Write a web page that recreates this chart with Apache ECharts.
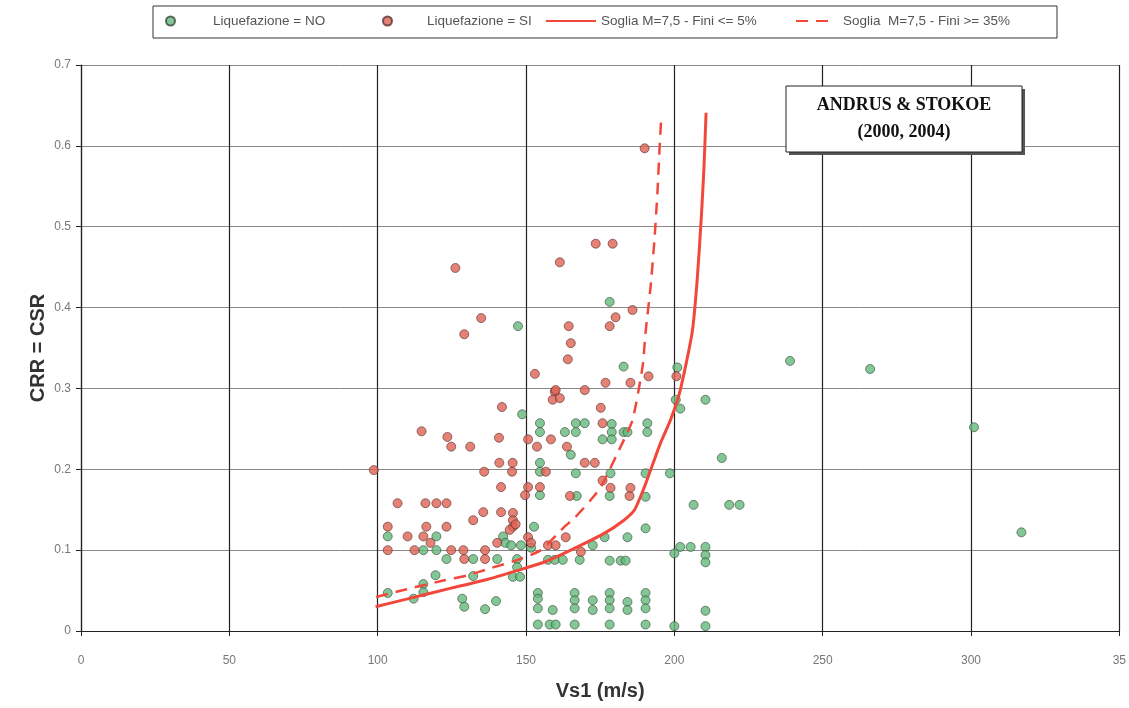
<!DOCTYPE html>
<html>
<head>
<meta charset="utf-8">
<script src="https://cdn.jsdelivr.net/npm/echarts@6/dist/echarts.min.js"></script>
<style>
  html, body { margin: 0; padding: 0; background: #fff; }
  #chart { width: 1129px; height: 708px; }
</style>
</head>
<body>
<div id="chart"></div>
<script>
// Liquefazione = NO  [Vs1, CRR]
var puntiNo = [
  [239, 0.334], [266, 0.324], [301, 0.252], [317, 0.122],
  [201, 0.326], [200.5, 0.286], [202, 0.275], [210.5, 0.286], [216, 0.214], [198.5, 0.195],
  [206.5, 0.156], [218.5, 0.156], [222, 0.156],
  [202, 0.104], [205.5, 0.104], [210.5, 0.104], [200, 0.096], [210.5, 0.094], [210.5, 0.085],
  [210.5, 0.025], [200, 0.006], [210.5, 0.006], [182.9, 0.327],
  [166.8, 0.195], [178.5, 0.195], [190.3, 0.195], [154.7, 0.197],
  [178.2, 0.167], [167.1, 0.167], [190.3, 0.166], [154.7, 0.168],
  [190.3, 0.127], [176.5, 0.116], [184.2, 0.116], [172.5, 0.106],
  [157.4, 0.088], [159.7, 0.088], [162.4, 0.088], [168.1, 0.088], [178.2, 0.087], [181.9, 0.087], [183.6, 0.087],
  [154.7, 0.257], [154.7, 0.246], [166.8, 0.257], [169.8, 0.257], [163.1, 0.246], [166.8, 0.246],
  [178.9, 0.256], [178.9, 0.246], [175.8, 0.237], [178.9, 0.237], [182.9, 0.246], [184.2, 0.246],
  [190.9, 0.257], [190.9, 0.246], [165.1, 0.218], [154.7, 0.208],
  [148.7, 0.268], [147.3, 0.377], [178.2, 0.407],
  [152.7, 0.129], [142.3, 0.117], [143, 0.109], [145, 0.106], [148.3, 0.106], [151.7, 0.103],
  [140.3, 0.089], [147, 0.089], [147, 0.079], [145.6, 0.067], [148, 0.067],
  [123.2, 0.089], [132.2, 0.089], [119.5, 0.069], [132.2, 0.068], [115.4, 0.058], [115.4, 0.048],
  [103.4, 0.047], [112.1, 0.040], [128.5, 0.040], [129.2, 0.030], [136.2, 0.027], [139.9, 0.037],
  [103.4, 0.117], [119.8, 0.117], [115.4, 0.100], [119.8, 0.100],
  [154, 0.047], [154, 0.040], [154, 0.028], [159, 0.026],
  [166.4, 0.047], [166.4, 0.038], [166.4, 0.028],
  [172.5, 0.038], [172.5, 0.026],
  [178.2, 0.047], [178.2, 0.038], [178.2, 0.028],
  [184.2, 0.036], [184.2, 0.026],
  [190.3, 0.047], [190.3, 0.038], [190.3, 0.028],
  [154, 0.008], [158, 0.008], [160, 0.008], [166.4, 0.008], [178.2, 0.008], [190.3, 0.008]
];

// Liquefazione = SI
var puntiSi = [
  [98.7, 0.199], [135.9, 0.197], [145.3, 0.197], [141, 0.208], [145.5, 0.208], [156.7, 0.197],
  [141.6, 0.178], [150.7, 0.178], [154.7, 0.178], [149.7, 0.168],
  [106.7, 0.158], [116.1, 0.158], [119.8, 0.158], [123.2, 0.158],
  [135.6, 0.147], [132.2, 0.137], [141.6, 0.147],
  [145.6, 0.146], [145.6, 0.137], [145.6, 0.129], [144.5, 0.125], [146.5, 0.132],
  [123.2, 0.129], [103.4, 0.129], [110.1, 0.117], [115.4, 0.117], [116.4, 0.129], [117.8, 0.109],
  [150.7, 0.116], [151.7, 0.109], [140.3, 0.109],
  [103.4, 0.100], [112.4, 0.100], [124.8, 0.100], [128.9, 0.100], [136.2, 0.100], [136.2, 0.089], [129.2, 0.089],
  [129.2, 0.367], [134.9, 0.387], [153, 0.318], [159.7, 0.296], [159, 0.286], [141.9, 0.277],
  [114.8, 0.247], [123.5, 0.240], [124.8, 0.228], [131.2, 0.228], [140.9, 0.239], [150.7, 0.237],
  [153.7, 0.228], [158.4, 0.237],
  [126.2, 0.449], [161.4, 0.456], [173.5, 0.479], [179.2, 0.479], [185.9, 0.397], [180.2, 0.388],
  [178.2, 0.377], [164.4, 0.377], [190, 0.597],
  [165.1, 0.356], [164.1, 0.336], [191.3, 0.315], [176.8, 0.307], [185.2, 0.307], [200.7, 0.315],
  [160, 0.298], [161.4, 0.288], [169.8, 0.298], [175.2, 0.276],
  [175.8, 0.257], [163.8, 0.228], [169.8, 0.208], [173.2, 0.208],
  [175.8, 0.186], [178.5, 0.177], [164.8, 0.167], [184.9, 0.167], [185.2, 0.177],
  [163.4, 0.116], [157.4, 0.106], [160, 0.106], [168.5, 0.098]
];

// soglia Fini <= 5%
var sogliaFini5 = [
  [99.3, 0.030], [111.4, 0.041], [124.8, 0.053], [136.2, 0.063], [147.3, 0.075], [156, 0.085],
  [165.1, 0.100], [176.5, 0.121], [183, 0.137], [186.6, 0.150], [189.9, 0.178], [192, 0.199],
  [195.3, 0.232], [198.7, 0.261], [202, 0.298], [206, 0.369], [207.7, 0.434], [209.1, 0.512],
  [210, 0.574], [210.7, 0.641]
];

// soglia Fini >= 35%
var sogliaFini35 = [
  [99.5, 0.042], [108, 0.050], [122.8, 0.063], [130.5, 0.069], [138.3, 0.078], [147.3, 0.088],
  [155, 0.100], [163, 0.129], [166.4, 0.140], [171.8, 0.162], [175.2, 0.178], [181.9, 0.228],
  [185.9, 0.261], [189.3, 0.327], [190.3, 0.369], [192, 0.426], [193.3, 0.484], [194.3, 0.542],
  [195, 0.595], [195.6, 0.636]
];

var xTicks = [0, 50, 100, 150, 200, 250, 300, 350];
var yTicks = [0, 0.1, 0.2, 0.3, 0.4, 0.5, 0.6, 0.7];

var nomeNo = 'Liquefazione = NO';
var nomeSi = 'Liquefazione = SI';
var nomeFini5 = 'Soglia M=7,5 - Fini <= 5%';
var nomeFini35 = 'Soglia  M=7,5 - Fini >= 35%';

var myChart = echarts.init(document.getElementById('chart'));

function legenda(nome, left, width, padLeft, isLine) {
  var l = {
    data: [nome],
    left: left,
    top: 14,
    padding: 0,
    itemWidth: width,
    itemHeight: isLine ? 14 : 9,
    itemGap: 0,
    textStyle: {
      color: '#555',
      fontSize: 13.5,
      fontFamily: '"Liberation Sans", Arial, sans-serif',
      padding: [0, 0, 0, padLeft]
    },
    selectedMode: false
  };
  if (isLine) {
    l.itemStyle = { opacity: 0 }  // solo la linea, senza simbolo
  } else {
    l.icon = 'circle'
  }
  return l;
}

var option = {
  animation: false,
  backgroundColor: '#fff',
  legend: [
    legenda(nomeNo, 165, 9, 33, false),
    legenda(nomeSi, 382, 9, 30, false),
    legenda(nomeFini5, 545, 50, 0, true),
    legenda(nomeFini35, 795, 40, 2, true)
  ],
  grid: {
    left: 81,
    right: 8,
    top: 65,
    bottom: 77
  },
  xAxis: {
    type: 'value',
    min: xTicks[0],
    max: xTicks[xTicks.length - 1],
    interval: 50,
    name: 'Vs1 (m/s)',
    nameLocation: 'middle',
    nameGap: 50,
    nameTextStyle: {
      color: '#333',
      fontSize: 20,
      fontWeight: 'bold',
      fontFamily: '"Liberation Sans", Arial, sans-serif'
    },
    axisLine: { lineStyle: { color: '#222', width: 1.2 } },
    axisTick: { show: true, length: 5, lineStyle: { color: '#222' } },
    axisLabel: {
      color: '#777',
      fontSize: 12,
      margin: 24,
      fontFamily: '"Liberation Sans", sans-serif',
      formatter: function (v) { return v === 350 ? '35' : String(v) }
    },
    splitLine: { show: true, lineStyle: { color: '#222', width: 1.2 } }
  },
  yAxis: {
    type: 'value',
    min: yTicks[0],
    max: yTicks[yTicks.length - 1],
    interval: 0.1,
    name: 'CRR = CSR',
    nameLocation: 'middle',
    nameGap: 33,
    nameMoveOverlap: false,
    nameTextStyle: {
      color: '#333',
      fontSize: 20,
      fontWeight: 'bold',
      fontFamily: '"Liberation Sans", Arial, sans-serif'
    },
    axisLine: { show: true, lineStyle: { color: '#222', width: 1.2 } },
    axisTick: { show: true, length: 5, lineStyle: { color: '#222' } },
    axisLabel: {
      color: '#777',
      fontSize: 12,
      margin: 10,
      fontFamily: '"Liberation Sans", sans-serif',
      formatter: function (v) { return v === 0 ? '0' : v.toFixed(1) }
    },
    splitLine: { show: true, lineStyle: { color: '#888', width: 1 } }
  },
  series: [
    {
      name: nomeNo,
      type: 'scatter',
      data: puntiNo,
      symbolSize: 9,
      itemStyle: { color: '#63b97a', borderColor: '#3a4a3a', borderWidth: 0.8 },
      z: 3
    },
    {
      name: nomeSi,
      type: 'scatter',
      data: puntiSi,
      symbolSize: 9,
      itemStyle: { color: '#df6352', borderColor: '#5a3030', borderWidth: 0.8 },
      z: 3
    },
    {
      name: nomeFini5,
      type: 'line',
      data: sogliaFini5,
      smooth: 0.2,
      showSymbol: false,
      symbol: 'none',
      lineStyle: { color: '#f2473b', width: 3 },
      itemStyle: { color: '#f2473b' },
      z: 4
    },
    {
      name: nomeFini35,
      type: 'line',
      data: sogliaFini35,
      smooth: 0.2,
      showSymbol: false,
      symbol: 'none',
      lineStyle: { color: '#f2473b', width: 2.5, type: [12, 8] },
      itemStyle: { color: '#f2473b' },
      z: 4
    }
  ],
  graphic: [
    {
      type: 'rect',
      shape: { x: 153, y: 6, width: 904, height: 32 },
      style: { fill: 'none', stroke: '#333', lineWidth: 1 },
      silent: true
    },
    {
      type: 'rect',
      shape: { x: 789, y: 89, width: 236, height: 66 },
      style: { fill: '#555', stroke: 'none' },
      z: 10,
      silent: true
    },
    {
      type: 'rect',
      shape: { x: 786, y: 86, width: 236, height: 66 },
      style: { fill: '#fff', stroke: '#222', lineWidth: 1 },
      z: 11,
      silent: true
    },
    {
      type: 'text',
      x: 904,
      y: 92,
      z: 12,
      style: {
        text: 'ANDRUS & STOKOE\n(2000, 2004)',
        align: 'center',
        verticalAlign: 'top',
        fill: '#111',
        font: 'bold 18px "Liberation Serif", "Times New Roman", serif',
        lineHeight: 27
      },
      silent: true
    }
  ]
};

myChart.setOption(option);
window.onresize = myChart.resize;
</script>
</body>
</html>
